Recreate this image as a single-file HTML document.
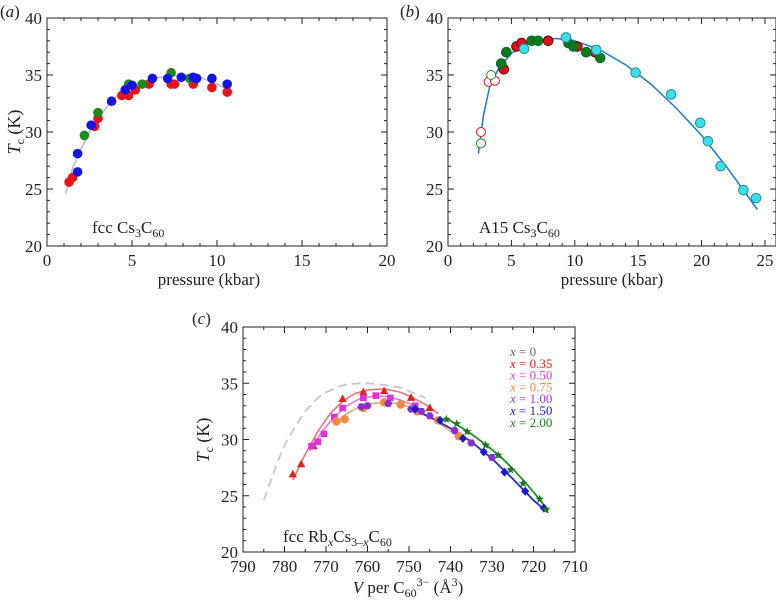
<!DOCTYPE html>
<html><head><meta charset="utf-8"><style>
html,body{margin:0;padding:0;background:#fff;}
svg{display:block;}
svg text{font-family:"Liberation Serif","Times New Roman",serif;}
</style></head><body>
<svg id="fig" width="776" height="602" viewBox="0 0 776 602" xmlns="http://www.w3.org/2000/svg" font-family="Liberation Serif, serif"></svg>
<script>
// ---- Panel (a) data ----
const aBlueP=[1.8,1.8,2.6,3.8,4.6,5.0,6.2,7.1,7.9,8.6,8.8,9.7,10.6];
const aBlueT=[26.5,28.1,30.6,32.7,33.7,34.1,34.7,34.7,34.8,34.8,34.7,34.7,34.2];
const aRedP=[1.3,1.5,2.8,3.0,4.4,4.8,5.2,6.0,7.3,7.5,8.6,9.7,10.6];
const aRedT=[25.6,26.0,30.5,31.2,33.2,33.2,33.7,34.2,34.2,34.2,34.2,33.9,33.5];
const aGreenP=[2.2,3.0,4.8,5.6,7.3,8.4];
const aGreenT=[29.7,31.7,34.2,34.2,35.2,34.7];
const aFitP=[1.1,1.5,2,2.5,3,4,5,6,7,8,9,10,11];
const aFitT=[24.6,26.8,28.5,30.0,31.3,33.0,34.0,34.6,34.9,35.0,34.8,34.2,33.4];
// ---- Panel (b) data ----
const bRedP=[4.4,5.4,5.8,7.9,10.2,11.6];
const bRedT=[35.5,37.5,37.8,38.0,37.5,37.0];
const bGreenP=[4.2,4.6,6.6,7.1,9.5,9.9,10.9,12.0];
const bGreenT=[36.0,37.0,38.0,38.0,37.8,37.5,37.0,36.5];
const bCyanP=[6.0,9.3,11.7,14.8,17.6,19.9,20.5,21.5,23.3,24.3];
const bCyanT=[37.3,38.3,37.2,35.2,33.3,30.8,29.2,27.0,24.9,24.2];
const bOpenRedP=[2.6,3.2,3.7];
const bOpenRedT=[30.0,34.4,34.5];
const bOpenGreenP=[2.6,3.4];
const bOpenGreenT=[29.0,35.0];
const bFitP=[2.4,2.8,3.3,4,5,6,7,8.5,10,12,14,16,18,20,22,24.4];
const bFitT=[28.1,31.5,34.0,35.6,36.9,37.6,38.0,38.2,38.0,37.2,35.9,34.2,32.1,29.7,26.9,23.2];
// ---- Panel (c) data ----
const cDashV=[785,782,780,777,775,772,770,767,765,762,760,757,755,752,750,746];
const cDashT=[24.6,27.7,29.5,31.4,32.5,33.7,34.2,34.7,34.9,35.0,35.0,34.9,34.8,34.6,34.3,33.7];
const c035V=[778,776,773,766,761,756,749.5,745];
const c035T=[26.9,27.8,29.4,33.6,34.2,34.3,33.7,32.8];
const c035FitV=[778,775,772,769,766,763,760,756,752,749,746,743];
const c035FitT=[26.4,28.7,30.7,32.3,33.4,34.1,34.4,34.5,34.2,33.7,33.1,32.3];
const c050V=[773.5,772,770.5,768,766,761,758,754.5,748.5];
const c050T=[29.4,29.8,30.5,32.0,32.8,33.7,33.9,33.7,33.0];
const c050FitV=[774,771,768,765,762,758,755,752,748];
const c050FitT=[29.0,30.7,32.0,33.0,33.6,33.9,33.8,33.5,32.9];
const c075V=[767.5,765.5,761,756,752,748,743,738];
const c075T=[31.6,31.8,32.8,33.3,33.1,32.5,31.7,30.3];
const c075FitV=[768,765,762,759,756,753,750,747,744,741,738];
const c075FitT=[31.4,32.3,32.9,33.2,33.3,33.2,32.9,32.4,31.8,31.0,30.2];
const c100V=[761.5,760,755,749.5,747,745,739,735,730];
const c100T=[32.9,33.0,33.2,32.7,32.5,32.1,30.8,29.7,28.4];
const c150V=[748.5,742.5,737,732,727,722,717.5];
const c150T=[32.7,31.7,30.1,28.9,27.1,25.4,23.9];
const c150FitV=[750,745,740,735,730,725,720,716.5];
const c150FitT=[32.8,32.0,31.0,29.8,28.3,26.5,24.6,23.5];
const c200V=[741,738.5,736,731.5,728.5,725.5,722.5,718.5,717];
const c200T=[31.8,31.4,30.7,29.5,28.6,27.3,26.1,24.7,23.8];
const c200FitV=[741,738,735,731,728,725,722,719,716.5];
const c200FitT=[31.9,31.2,30.5,29.4,28.5,27.4,26.2,24.9,23.7];
const legendLabels=["x = 0","x = 0.35","x = 0.50","x = 0.75","x = 1.00","x = 1.50","x = 2.00"];
const legendColors=["#666","#e0201c","#e040d0","#f08a3c","#9a40e0","#2020d0","#208020"];

const NS="http://www.w3.org/2000/svg";
const svg=document.getElementById('fig');
function el(tag,attrs,parent){const e=document.createElementNS(NS,tag);for(const k in attrs)e.setAttribute(k,attrs[k]);(parent||svg).appendChild(e);return e;}
function axis(x0,x1,y0,y1,xmin,xmax,ymin,ymax){
  return {x:v=>x0+(v-xmin)/(xmax-xmin)*(x1-x0), y:v=>y1-(v-ymin)/(ymax-ymin)*(y1-y0), x0,x1,y0,y1,xmin,xmax,ymin,ymax};
}
const FF='Liberation Serif, serif';
function frame(ax,name,xticks,xminor,xlab,ylab){
  const g=el('g',{});
  
  
  el('rect',{x:ax.x0,y:ax.y0,width:ax.x1-ax.x0,height:ax.y1-ax.y0,fill:'none',stroke:'#222','stroke-width':1},g);
  xticks.forEach((v,i)=>{const X=ax.x(v);
    el('line',{x1:X,x2:X,y1:ax.y1,y2:ax.y1-6,stroke:'#222'},g);
    el('line',{x1:X,x2:X,y1:ax.y0,y2:ax.y0+6,stroke:'#222'},g);
    const t=el('text',{x:X,y:ax.y1+20,'text-anchor':'middle','font-size':17,fill:'#222','font-family':FF},g);t.textContent=xlab[i];
    
    
  });
  xminor.forEach(v=>{const X=ax.x(v);
    el('line',{x1:X,x2:X,y1:ax.y1,y2:ax.y1-3,stroke:'#222'},g);
    el('line',{x1:X,x2:X,y1:ax.y0,y2:ax.y0+3,stroke:'#222'},g);});
  for(let v=20;v<=40;v+=1){const Y=ax.y(v);const L=(v%5==0)?6:3;
    el('line',{x1:ax.x0,x2:ax.x0+L,y1:Y,y2:Y,stroke:'#222'},g);
    el('line',{x1:ax.x1,x2:ax.x1-L,y1:Y,y2:Y,stroke:'#222'},g);
    if(v%5==0&&ylab){const t=el('text',{x:ax.x0-5,y:Y+6,'text-anchor':'end','font-size':17,fill:'#222','font-family':FF},g);t.textContent=v;
      
      }
  }
  return g;
}
function line(ax,xs,ys,attrs,name){const d=xs.map((v,i)=>(i?'L':'M')+ax.x(v).toFixed(1)+' '+ax.y(ys[i]).toFixed(1)).join(' ');
  const p=el('path',Object.assign({d,fill:'none'},attrs));
  
  }
function dots(ax,xs,ys,fill,stroke,r,name,shape){
  xs.forEach((v,i)=>{const X=ax.x(v),Y=ax.y(ys[i]);let e;
    if(shape==='tri') e=el('polygon',{points:`${X},${Y-4.5} ${X-4.2},${Y+3} ${X+4.2},${Y+3}`,fill});
    else if(shape==='sq') e=el('rect',{x:X-3.3,y:Y-3.3,width:6.6,height:6.6,fill});
    else if(shape==='dia') e=el('polygon',{points:`${X},${Y-4.5} ${X+4},${Y} ${X},${Y+4.5} ${X-4},${Y}`,fill});
    else if(shape==='hex') e=el('polygon',{points:[0,1,2,3,4,5].map(k=>(X+4*Math.cos(k*Math.PI/3))+','+(Y+4*Math.sin(k*Math.PI/3))).join(' '),fill});
    else if(shape==='star') e=el('polygon',{points:[...Array(10)].map((_,k)=>{const rr=k%2?2:4.5,a=-Math.PI/2+k*Math.PI/5;return (X+rr*Math.cos(a))+','+(Y+rr*Math.sin(a));}).join(' '),fill});
    else e=el('circle',{cx:X,cy:Y,r,fill,stroke:stroke||'none','stroke-width':stroke?1:0});
    
    
  });
}
function txt(x,y,html,size,name,anchor,extra){const t=el('text',Object.assign({x,y,'font-size':size,fill:'#222','text-anchor':anchor||'start','font-family':FF},extra||{}));t.innerHTML=html;
  
  return t;}

// Panel a
const A=axis(47,387,18,246,0,20,20,40);
frame(A,'panel-a',[0,5,10,15,20],[1,2,3,4,6,7,8,9,11,12,13,14,16,17,18,19],['0','5','10','15','20'],true);
line(A,aFitP,aFitT,{stroke:'#bbb','stroke-width':1.5},'fit-curve-a');
dots(A,aRedP,aRedT,'#e8141c',null,4.8,'red-point-a');
dots(A,aGreenP,aGreenT,'#1c8a1c',null,4.8,'green-point-a');
dots(A,aBlueP,aBlueT,'#1414e6',null,4.8,'blue-point-a');
txt(0,17,'(<tspan font-style="italic">a</tspan>)',17,'panel-a-label');
txt(92,233,'fcc Cs<tspan font-size="12" dy="4">3</tspan><tspan dy="-4">C</tspan><tspan font-size="12" dy="4">60</tspan>',17,'panel-a-compound');
txt(209,285,'pressure (kbar)',17,'x-axis-title-a','middle');
txt(20,132,'<tspan font-style="italic">T</tspan><tspan font-size="12" dy="4">c</tspan><tspan dy="-4"> (K)</tspan>',18,'y-axis-title-a','middle',{transform:'rotate(-90 20 132)'});

// Panel b
const B=axis(448,776,18,246,0,25.87,20,40);
frame(B,'panel-b',[0,5,10,15,20,25],[1,2,3,4,6,7,8,9,11,12,13,14,16,17,18,19,21,22,23,24],['0','5','10','15','20','25'],true);
line(B,bFitP,bFitT,{stroke:'#1a7ad8','stroke-width':1.5},'fit-curve-b');
dots(B,bOpenRedP,bOpenRedT,'#fff','#e8141c',4.5,'open-red-point-b');
dots(B,bOpenGreenP,bOpenGreenT,'#fff','#1c8a1c',4.5,'open-green-point-b');
dots(B,bRedP,bRedT,'#e0101a','#600',4.8,'red-point-b');
dots(B,bGreenP,bGreenT,'#0e7a1a','#063',4.8,'green-point-b');
dots(B,bCyanP,bCyanT,'#38e0ec','#2a8a90',4.8,'cyan-point-b');
txt(400,17,'(<tspan font-style="italic">b</tspan>)',17,'panel-b-label');
txt(479,233,'A15 Cs<tspan font-size="12" dy="4">3</tspan><tspan dy="-4">C</tspan><tspan font-size="12" dy="4">60</tspan>',17,'panel-b-compound');
txt(612,285,'pressure (kbar)',17,'x-axis-title-b','middle');

// Panel c
const C=axis(243,575,327,552,790,710,20,40);
frame(C,'panel-c',[790,780,770,760,750,740,730,720,710],[785,775,765,755,745,735,725,715],['790','780','770','760','750','740','730','720','710'],true);
line(C,cDashV,cDashT,{stroke:'#c8c8c8','stroke-width':1.8,'stroke-dasharray':'9 5'},'dashed-curve-x0');
line(C,c035FitV,c035FitT,{stroke:'#f06a70','stroke-width':1.5},'fit-curve-x035');
line(C,c050FitV,c050FitT,{stroke:'#f070e0','stroke-width':1.5},'fit-curve-x050');
line(C,c075FitV,c075FitT,{stroke:'#f0a070','stroke-width':1.5},'fit-curve-x075');
line(C,c150FitV,c150FitT,{stroke:'#2030c0','stroke-width':1.8},'fit-curve-x150');
line(C,c200FitV,c200FitT,{stroke:'#208a30','stroke-width':1.8},'fit-curve-x200');
dots(C,c035V,c035T,'#e0201c',null,4,'point-x035','tri');
dots(C,c050V,c050T,'#e030d8',null,4,'point-x050','sq');
dots(C,c075V,c075T,'#f08a3c',null,4.2,'point-x075');
dots(C,c100V,c100T,'#8a30d0',null,4,'point-x100','hex');
dots(C,c150V,c150T,'#1818d0',null,4,'point-x150','dia');
dots(C,c200V,c200T,'#1a7a1a',null,4,'point-x200','star');
legendLabels.forEach((l,i)=>{txt(510,356+i*11.8,'<tspan font-style="italic">x</tspan>'+l.slice(1),13,'legend-entry','start',{fill:legendColors[i]});});
txt(192,324,'(<tspan font-style="italic">c</tspan>)',17,'panel-c-label');
txt(283,542,'fcc Rb<tspan font-size="12" dy="4" font-style="italic">x</tspan><tspan dy="-4">Cs</tspan><tspan font-size="12" dy="4">3–<tspan font-style="italic">x</tspan></tspan><tspan dy="-4">C</tspan><tspan font-size="12" dy="4">60</tspan>',17,'panel-c-compound');
txt(408,593,'<tspan font-style="italic">V</tspan> per C<tspan font-size="12" dy="4">60</tspan><tspan font-size="12" dy="-11">3−</tspan><tspan dy="7"> (Å</tspan><tspan font-size="12" dy="-7">3</tspan><tspan dy="7">)</tspan>',17,'x-axis-title-c','middle');
txt(209,440,'<tspan font-style="italic">T</tspan><tspan font-size="12" dy="4">c</tspan><tspan dy="-4"> (K)</tspan>',18,'y-axis-title-c','middle',{transform:'rotate(-90 209 440)'});
</script>
</body></html>
